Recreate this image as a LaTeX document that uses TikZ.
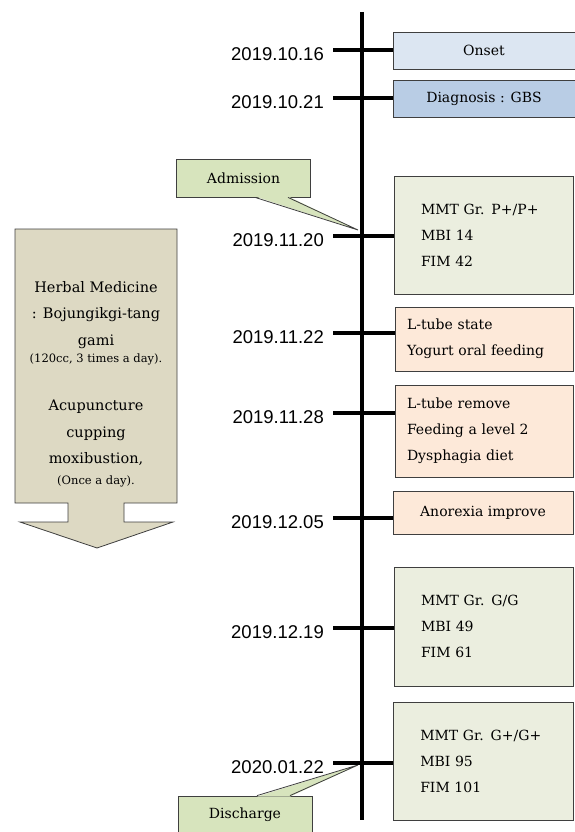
\documentclass[tikz,border=0pt]{standalone}
\usepackage{fontspec}
\setmainfont{DejaVu Serif}
\newfontfamily\datefont{Liberation Sans}
\definecolor{boxline}{HTML}{3F3F3F}
\definecolor{onsetfill}{HTML}{DCE6F2}
\definecolor{diagfill}{HTML}{B9CDE5}
\definecolor{scorefill}{HTML}{EBEEDF}
\definecolor{dietfill}{HTML}{FDE9D9}
\definecolor{callfill}{HTML}{D7E4BD}
\definecolor{herbfill}{HTML}{DDD9C3}

\begin{document}
\begin{tikzpicture}[x=1pt,y=-1pt,
  every node/.style={inner sep=0pt},
  datelbl/.style={anchor=east,font=\datefont\fontsize{18.5}{20}\selectfont,
    inner xsep=9pt,text height=21pt,text depth=0pt},
  evbox/.style={draw=boxline,line width=0.8pt,font=\fontsize{14}{26}\selectfont},
  scorebox/.style={evbox,fill=scorefill,align=left,text width=125.5pt,
    minimum width=179.5pt},
  dietbox/.style={evbox,fill=dietfill,align=left,text width=154.5pt,
    minimum width=178.5pt},
  callout/.style={draw=boxline,line width=0.8pt,fill=callfill,
    minimum width=134pt,minimum height=38pt,font=\fontsize{14}{16}\selectfont},
  herbtxt/.style={align=center,font=\fontsize{14.5}{26.5}\selectfont},
  dosetxt/.style={font=\fontsize{11.5}{13}\selectfont},
  tick/.style={line width=4.5pt},
  axis/.style={line width=4pt}]
\useasboundingbox (0,0) rectangle (574,832);

\filldraw[fill=herbfill,draw=boxline,line width=0.8pt] (15,229) -- (177,229) -- (177,503)
  -- (124,503) -- (124,522) -- (173,522) -- (97,548) -- (20,522) -- (68,522)
  -- (68,503) -- (15,503) -- cycle;
\node[herbtxt] (herb) at (96,315) {Herbal Medicine\\: Bojungikgi-tang\\gami};
\node[dosetxt] (herbdose) at (96,359) {(120cc, 3 times a day).};
\node[herbtxt] (acu) at (96,433) {Acupuncture\\cupping\\moxibustion,};
\node[dosetxt] (acudose) at (96,481) {(Once a day).};

\node[evbox,fill=onsetfill,minimum width=182pt,minimum height=37pt] (b1) at (484,50.5) {Onset};
\node[evbox,fill=diagfill,minimum width=182pt,minimum height=37pt] (b2) at (484,98.5) {Diagnosis : GBS};
\node[scorebox,minimum height=118pt] (b3) at (483.75,235) {MMT Gr. P+/P+\\MBI 14\\FIM 42};
\node[dietbox,minimum height=64pt] (b4) at (484.25,339) {L-tube state\\Yogurt oral feeding};
\node[dietbox,minimum height=92pt] (b5) at (484.25,431) {L-tube remove\\Feeding a level 2\\Dysphagia diet};
\node[evbox,fill=dietfill,minimum width=180pt,minimum height=43pt] (b6) at (483,512.5) {Anorexia improve};
\node[scorebox,minimum height=119pt] (b7) at (483.75,626.5) {MMT Gr. G/G\\MBI 49\\FIM 61};
\node[scorebox,minimum height=118pt,minimum width=180pt] (b8) at (483,761) {MMT Gr. G+/G+\\MBI 95\\FIM 101};

\node[callout] (adm) at (243.5,178) {Admission};
\coordinate (admtip) at (358,230);
\fill[callfill] ([xshift=11.5pt,yshift=1pt]adm.south) -- (admtip) -- ([xshift=44.5pt,yshift=1pt]adm.south) -- cycle;
\draw[boxline,line width=0.8pt] ([xshift=11.5pt]adm.south) -- (admtip) -- ([xshift=44.5pt]adm.south);
\node[callout] (dis) at (245,815) {Discharge};
\coordinate (distip) at (358,765);
\fill[callfill] ([xshift=12pt,yshift=-1pt]dis.north) -- (distip) -- ([xshift=45pt,yshift=-1pt]dis.north) -- cycle;
\draw[boxline,line width=0.8pt] ([xshift=12pt]dis.north) -- (distip) -- ([xshift=45pt]dis.north);

\coordinate (top) at (361.5,12);
\coordinate (bot) at (361.5,820);
\draw[axis] (top) -- (bot);

\node[datelbl] (d1) at (333,50) {2019.10.16};
\node[datelbl] (d2) at (333,98) {2019.10.21};
\node[datelbl] (d3) at (333,236) {2019.11.20};
\node[datelbl] (d4) at (333,333) {2019.11.22};
\node[datelbl] (d5) at (333,413) {2019.11.28};
\node[datelbl] (d6) at (333,518) {2019.12.05};
\node[datelbl] (d7) at (333,628) {2019.12.19};
\node[datelbl] (d8) at (333,763) {2020.01.22};
\draw[tick] (d1) -- (d1 -| b1.west);
\draw[tick] (d2) -- (d2 -| b2.west);
\draw[tick] (d3) -- (d3 -| b3.west);
\draw[tick] (d4) -- (d4 -| b4.west);
\draw[tick] (d5) -- (d5 -| b5.west);
\draw[tick] (d6) -- (d6 -| b6.west);
\draw[tick] (d7) -- (d7 -| b7.west);
\draw[tick] (d8) -- (d8 -| b8.west);
\end{tikzpicture}
\end{document}
